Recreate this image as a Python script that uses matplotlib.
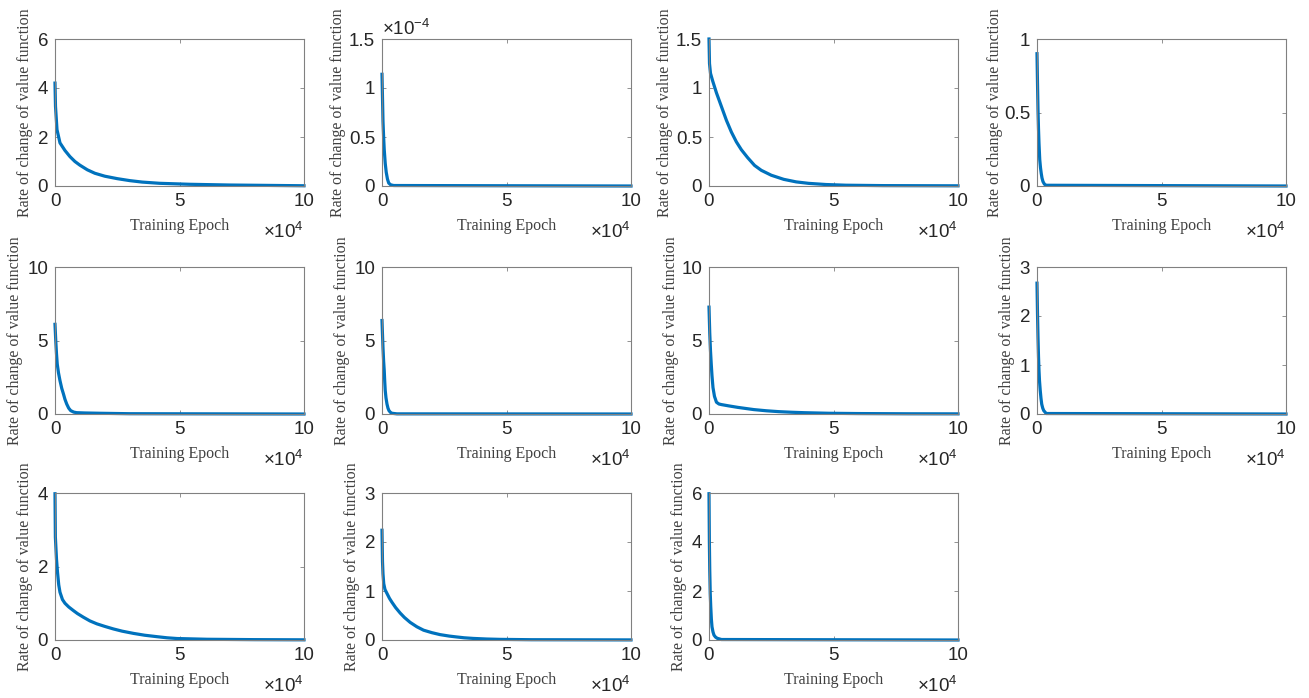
import matplotlib
matplotlib.use("Agg")
import matplotlib.pyplot as plt
from matplotlib.ticker import FuncFormatter

plt.rcParams['font.family'] = ['Liberation Sans', 'DejaVu Sans']
plt.rcParams['mathtext.fontset'] = 'custom'
plt.rcParams['mathtext.rm'] = 'Liberation Sans'
plt.rcParams['mathtext.it'] = 'Liberation Sans:italic'

# ---------------- data ----------------
x_label = "Training Epoch"
y_label = "Rate of change of value function"
x_ticks = [0, 50000, 100000]
x_tick_labels = ["0", "5", "10"]

p1_x = [0, 200, 800, 2000, 4000, 6000, 8000, 10000, 13000, 16000, 20000, 25000, 30000, 35000, 42000, 54000, 70000, 100000]
p1_y = [4.2, 3.25, 2.3, 1.76, 1.45, 1.2, 1.0, 0.85, 0.66, 0.52, 0.4, 0.3, 0.22, 0.16, 0.11, 0.07, 0.04, 0.01]

p2_x = [0, 200, 400, 650, 900, 1300, 1700, 2200, 2700, 3500, 4700, 100000]
p2_y = [1.14e-4, 0.9e-4, 0.66e-4, 0.5e-4, 0.37e-4, 0.23e-4, 0.14e-4, 0.07e-4, 0.03e-4, 0.012e-4, 0.005e-4, 0.0]

p3_x = [0, 200, 600, 1500, 3000, 5000, 7000, 9000, 11000, 13000, 15500, 18300, 21000, 25000, 30000, 35000, 40000, 47000, 55000, 70000, 100000]
p3_y = [1.5, 1.25, 1.15, 1.07, 0.95, 0.81, 0.67, 0.55, 0.45, 0.37, 0.29, 0.21, 0.16, 0.11, 0.068, 0.042, 0.027, 0.015, 0.008, 0.004, 0.002]

p4_x = [0, 200, 400, 600, 800, 1100, 1400, 1700, 2000, 2400, 3000, 3700, 100000]
p4_y = [0.9, 0.7, 0.52, 0.39, 0.29, 0.18, 0.125, 0.086, 0.055, 0.03, 0.012, 0.005, 0.0]

p5_x = [0, 300, 600, 900, 1400, 2000, 2700, 3400, 4000, 4700, 5500, 6300, 7500, 8700, 12000, 18000, 30000, 100000]
p5_y = [6.1, 5.0, 4.1, 3.4, 2.8, 2.27, 1.75, 1.36, 1.0, 0.68, 0.4, 0.23, 0.13, 0.09, 0.07, 0.05, 0.02, 0.0]

p6_x = [0, 200, 400, 650, 900, 1100, 1300, 1600, 2000, 2400, 2800, 3400, 4000, 6000, 100000]
p6_y = [6.36, 5.4, 4.5, 3.6, 2.95, 2.2, 1.6, 1.1, 0.68, 0.4, 0.23, 0.11, 0.05, 0.01, 0.0]

p7_x = [0, 300, 600, 900, 1200, 1600, 2200, 3000, 4000, 5000, 8000, 11600, 15000, 18000, 23000, 28000, 33000, 38000, 43000, 48000, 60000, 80000, 100000]
p7_y = [7.27, 5.5, 4.3, 3.4, 2.6, 1.8, 1.2, 0.8, 0.68, 0.64, 0.55, 0.45, 0.37, 0.3, 0.22, 0.16, 0.12, 0.09, 0.07, 0.05, 0.03, 0.015, 0.01]

p8_x = [0, 200, 400, 600, 800, 1000, 1300, 1600, 1900, 2300, 2700, 3700, 100000]
p8_y = [2.67, 2.05, 1.57, 1.18, 0.89, 0.68, 0.48, 0.32, 0.2, 0.12, 0.07, 0.01, 0.0]

p9_x = [0, 150, 600, 1000, 1500, 2000, 3000, 4000, 5500, 7400, 9000, 11400, 14000, 16800, 20000, 23500, 27000, 31500, 36000, 41000, 45000, 49000, 55000, 61000, 80000, 100000]
p9_y = [3.98, 2.8, 2.2, 1.85, 1.5, 1.3, 1.1, 1.0, 0.9, 0.8, 0.72, 0.62, 0.52, 0.44, 0.37, 0.3, 0.24, 0.18, 0.13, 0.09, 0.06, 0.04, 0.03, 0.02, 0.01, 0.005]

p10_x = [0, 200, 400, 700, 1200, 2000, 3000, 4000, 5500, 7300, 9000, 11300, 14000, 16700, 20000, 23300, 27000, 30000, 33000, 36700, 42000, 47300, 60000, 100000]
p10_y = [2.24, 1.6, 1.35, 1.15, 1.03, 0.95, 0.85, 0.77, 0.66, 0.55, 0.46, 0.36, 0.27, 0.2, 0.15, 0.11, 0.08, 0.062, 0.045, 0.032, 0.02, 0.013, 0.006, 0.002]

p11_x = [0, 150, 300, 500, 700, 950, 1200, 1600, 2000, 2600, 3300, 5000, 100000]
p11_y = [5.97, 4.0, 2.85, 1.9, 1.36, 0.85, 0.54, 0.33, 0.2, 0.12, 0.07, 0.02, 0.0]

y_limits = [6, 1.5e-4, 1.5, 1, 10, 10, 10, 3, 4, 3, 6]
y_ticks = [
    [0, 2, 4, 6],
    [0, 0.5e-4, 1e-4, 1.5e-4],
    [0, 0.5, 1, 1.5],
    [0, 0.5, 1],
    [0, 5, 10],
    [0, 5, 10],
    [0, 5, 10],
    [0, 1, 2, 3],
    [0, 2, 4],
    [0, 1, 2, 3],
    [0, 2, 4, 6],
]
y_scale = [1, 1e-4, 1, 1, 1, 1, 1, 1, 1, 1, 1]

series = [(p1_x, p1_y), (p2_x, p2_y), (p3_x, p3_y), (p4_x, p4_y),
          (p5_x, p5_y), (p6_x, p6_y), (p7_x, p7_y), (p8_x, p8_y),
          (p9_x, p9_y), (p10_x, p10_y), (p11_x, p11_y)]

# ---------------- layout ----------------
W, H = 1309, 698
fig = plt.figure(figsize=(W / 100, H / 100), dpi=100)
fig.patch.set_facecolor('white')

col_left = [55, 382, 709, 1037]
row_top = [39, 267, 493]
ax_w, ax_h = 249, 147
ylabel_off = [30, 44, 44, 42, 40, 40, 38, 30, 30, 30, 30]

line_color = '#0072BD'
frame_color = '#808080'
text_color = '#262626'

for i, (xs, ys) in enumerate(series):
    r, c = divmod(i, 4)
    left = col_left[c] / W
    bottom = 1 - (row_top[r] + ax_h) / H
    ax = fig.add_axes([left, bottom, ax_w / W, ax_h / H])
    ax.plot(xs, ys, color=line_color, lw=2.3, clip_on=False, solid_joinstyle='round')
    ax.set_xlim(0, 100000)
    ax.set_ylim(0, y_limits[i])
    ax.set_xticks(x_ticks)
    ax.set_xticklabels(x_tick_labels)
    ax.set_yticks(y_ticks[i])
    sc = y_scale[i]
    ax.yaxis.set_major_formatter(FuncFormatter(lambda v, p, sc=sc: '%g' % round(v / sc, 6)))
    for s in ax.spines.values():
        s.set_color(frame_color)
        s.set_linewidth(0.8)
    ax.tick_params(direction='in', length=3, width=0.6, color=frame_color,
                   top=True, right=True, labelsize=13.5, labelcolor=text_color)
    ax.tick_params(axis='x', pad=5)
    ax.tick_params(axis='y', pad=5)
    ax.set_xlabel(x_label, fontfamily='Liberation Serif', fontsize=11.5,
                  color='#404040', va='center')
    ax.xaxis.set_label_coords(0.5, -40 / ax_h)
    ax.set_ylabel(y_label, fontfamily='Liberation Serif', fontsize=11.5,
                  color='#404040', va='center', rotation_mode='anchor')
    ax.yaxis.set_label_coords(-ylabel_off[i] / ax_w, 0.5)
    ax.text(1.0, -46 / ax_h, r'$\times\mathregular{10^{4}}$', transform=ax.transAxes,
            ha='right', va='center', fontsize=13.5, color=text_color)
    if sc != 1:
        ax.text(0.0, 1 + 10 / ax_h, r'$\times\mathregular{10^{-4}}$', transform=ax.transAxes,
                ha='left', va='center', fontsize=13.5, color=text_color)

fig.savefig('out.png', dpi=100, facecolor='white')
